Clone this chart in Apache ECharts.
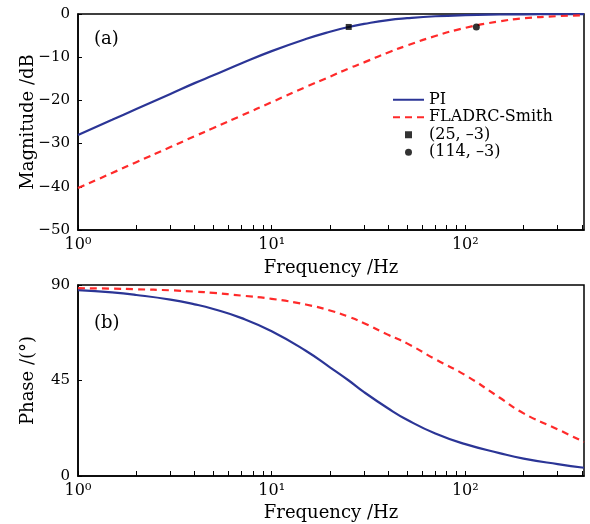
<!DOCTYPE html>
<html>
<head>
<meta charset="utf-8">
<script src="https://cdn.jsdelivr.net/npm/echarts@6/dist/echarts.min.js"></script>
<style>
  html, body { margin: 0; padding: 0; background: #fff; }
  #contain { width: 590px; height: 524px; }
</style>
</head>
<body>
<div id="contain"></div>
<script>
// frequencies (Hz)
const freq = [1, 1.5, 2, 3, 4, 5, 7, 10, 15, 20, 25, 30, 40, 50, 70, 100, 150, 200, 300, 410];
// magnitude (dB)
const magPI = [-28.0, -24.5, -22.0, -18.5, -16.0, -14.2, -11.4, -8.6, -5.8, -4.1, -3.0, -2.3, -1.4, -0.97, -0.52, -0.26, -0.12, -0.07, -0.03, -0.02];
const magFL = [-40.3, -36.8, -34.3, -30.8, -28.3, -26.4, -23.5, -20.4, -16.9, -14.5, -12.6, -11.2, -8.9, -7.3, -5.1, -3.2, -1.7, -1.0, -0.5, -0.3];
// phase (deg)
const phPI = [87.6, 86.5, 85.3, 83.1, 80.9, 78.7, 74.4, 68.2, 59.0, 51.2, 45.0, 39.5, 31.8, 26.5, 20.0, 15.0, 10.8, 8.2, 5.6, 3.9];
const phFL = [88.5, 88.3, 88.0, 87.5, 86.9, 86.3, 85.0, 83.5, 80.8, 78.0, 75.0, 72.0, 66.5, 62.5, 55.0, 47.5, 37.0, 29.5, 22.0, 16.0];
// -3 dB points
const pt25 = [[25, -3]];
const pt114 = [[114, -3]];
// tick values
const xLabelVals = [1, 10, 100];
const xTickVals = [1, 2, 3, 4, 5, 6, 7, 8, 9, 10, 20, 30, 40, 50, 60, 70, 80, 90, 100, 200, 300, 400];
const xLabelText = { 1: '10⁰', 10: '10¹', 100: '10²' };

const zip = (xs, ys) => xs.map((x, i) => [x, ys[i]]);
const font = 'DejaVu Serif';
const blue = '#2b3596';
const red = '#ff2a2a';

const xAxisBase = (gridIndex, gap) => ({
  type: 'log',
  logBase: 10,
  gridIndex: gridIndex,
  min: 1,
  max: 410,
  name: 'Frequency /Hz',
  nameLocation: 'middle',
  nameGap: gap,
  nameMoveOverlap: false,
  nameTextStyle: { fontFamily: font, fontSize: 18, color: '#000' },
  axisLine: { onZero: false, lineStyle: { color: '#000', width: 1.5 } },
  axisTick: { inside: true, length: 5, customValues: xTickVals, lineStyle: { color: '#000' } },
  axisLabel: {
    customValues: xLabelVals,
    formatter: v => xLabelText[Math.round(v)] || '',
    fontFamily: font, fontSize: 16, color: '#000', margin: 7
  },
  splitLine: { show: false }
});

const yAxisBase = (gridIndex, name, min, max, interval) => ({
  type: 'value',
  gridIndex: gridIndex,
  min: min, max: max, interval: interval,
  name: name,
  nameLocation: 'middle',
  nameGap: 41,
  nameMoveOverlap: false,
  nameTextStyle: { fontFamily: font, fontSize: 18, color: '#000' },
  axisLine: { show: true, onZero: false, lineStyle: { color: '#000', width: 1.5 } },
  axisTick: { inside: true, length: 4, lineStyle: { color: '#000' } },
  axisLabel: {
    formatter: v => String(v).replace('-', '−'),
    fontFamily: font, fontSize: 15, color: '#000', margin: 8
  },
  splitLine: { show: false }
});

const hideDot = { color: 'rgba(0,0,0,0)', opacity: 0, borderWidth: 0 };

const chart = echarts.init(document.getElementById('contain'));
const option = {
  animation: false,
  backgroundColor: '#fff',
  grid: [
    { left: 78, right: 6, top: 14, height: 216, show: true, borderColor: '#000', borderWidth: 1.5 },
    { left: 78, right: 6, top: 285, height: 191, show: true, borderColor: '#000', borderWidth: 1.5 }
  ],
  xAxis: [xAxisBase(0, 29), xAxisBase(1, 28)],
  yAxis: [
    yAxisBase(0, 'Magnitude /dB', -50, 0, 10),
    yAxisBase(1, 'Phase /(°)', 0, 90, 45)
  ],
  legend: {
    left: 387, top: 86,
    orient: 'vertical',
    itemWidth: 31, itemHeight: 7, itemGap: 0,
    textStyle: { fontFamily: font, fontSize: 16, color: '#000', lineHeight: 17.5 },
    data: [
      { name: 'PI', itemStyle: hideDot },
      { name: 'FLADRC-Smith', itemStyle: hideDot },
      { name: '(25, –3)', icon: 'path://M0,0h10v10h-10z' },
      { name: '(114, –3)', icon: 'circle' }
    ]
  },
  graphic: [
    { type: 'text', left: 94, top: 30, style: { text: '(a)', font: '18px "DejaVu Serif"', fill: '#000' } },
    { type: 'text', left: 94, top: 314, style: { text: '(b)', font: '18px "DejaVu Serif"', fill: '#000' } }
  ],
  series: [
    { name: 'PI', type: 'line', xAxisIndex: 0, yAxisIndex: 0, data: zip(freq, magPI), smooth: true, symbol: 'none',
      lineStyle: { color: blue, width: 2.2 }, itemStyle: { color: blue } },
    { name: 'FLADRC-Smith', type: 'line', xAxisIndex: 0, yAxisIndex: 0, data: zip(freq, magFL), smooth: true, symbol: 'none',
      lineStyle: { color: red, width: 2.2, type: [7, 5] }, itemStyle: { color: red } },
    { name: '(25, –3)', type: 'scatter', xAxisIndex: 0, yAxisIndex: 0, data: pt25, symbol: 'rect', symbolSize: 6,
      itemStyle: { color: '#000' }, z: 5 },
    { name: '(114, –3)', type: 'scatter', xAxisIndex: 0, yAxisIndex: 0, data: pt114, symbol: 'circle', symbolSize: 7,
      itemStyle: { color: '#000' }, z: 5 },
    { name: 'PI', type: 'line', xAxisIndex: 1, yAxisIndex: 1, data: zip(freq, phPI), smooth: true, symbol: 'none',
      lineStyle: { color: blue, width: 2.2 }, itemStyle: { color: blue } },
    { name: 'FLADRC-Smith', type: 'line', xAxisIndex: 1, yAxisIndex: 1, data: zip(freq, phFL), smooth: true, symbol: 'none',
      lineStyle: { color: red, width: 2.2, type: [7, 5] }, itemStyle: { color: red } }
  ]
};
chart.setOption(option);
</script>
</body>
</html>
